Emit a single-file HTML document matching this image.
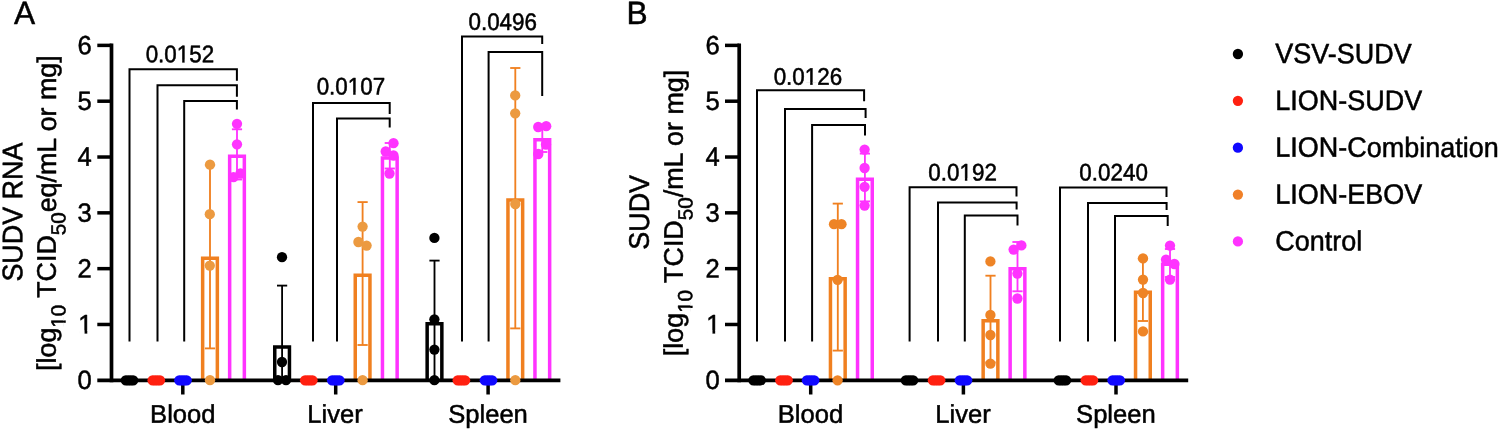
<!DOCTYPE html>
<html lang="en"><head><meta charset="utf-8"><title>SUDV RNA and SUDV titers</title>
<style>html,body{margin:0;padding:0;background:#fff;}body{width:1500px;height:431px;overflow:hidden;}svg{display:block;font-family:"Liberation Sans",Arial,Helvetica,sans-serif;}text{fill:#000;stroke:#000;stroke-width:0.5px;stroke-linejoin:round;}</style>
</head><body>
<svg width="1500" height="431" viewBox="0 0 1500 431">
<rect width="1500" height="431" fill="#fff"/>
<defs><clipPath id="ct1"><path clip-rule="evenodd" d="M-600,-60H600V60H-600ZM-2.42,-2.38H2.31V1.20H-2.42ZM4.69,-2.38H9.25V1.20H4.69Z"/></clipPath><clipPath id="ct2"><path clip-rule="evenodd" d="M-600,-60H600V60H-600ZM-2.42,-2.38H2.31V1.20H-2.42ZM4.69,-2.38H9.25V1.20H4.69Z"/></clipPath><clipPath id="ct3"><path clip-rule="evenodd" d="M-600,-60H600V60H-600ZM-13.29,-2.61H-8.00V1.20H-13.29ZM-5.34,-2.61H-0.25V1.20H-5.34Z"/></clipPath><clipPath id="ct4"><path clip-rule="evenodd" d="M-600,-60H600V60H-600ZM-113.99,7.36H-109.58V10.80H-113.99ZM-107.37,7.36H-103.12V10.80H-107.37Z"/></clipPath><clipPath id="ct5"><path clip-rule="evenodd" d="M-600,-60H600V60H-600ZM-2.42,-2.38H2.31V1.20H-2.42ZM4.69,-2.38H9.25V1.20H4.69Z"/></clipPath><clipPath id="ct6"><path clip-rule="evenodd" d="M-600,-60H600V60H-600ZM-2.42,-2.38H2.31V1.20H-2.42ZM4.69,-2.38H9.25V1.20H4.69Z"/></clipPath><clipPath id="ct7"><path clip-rule="evenodd" d="M-600,-60H600V60H-600ZM-13.29,-2.61H-8.00V1.20H-13.29ZM-5.34,-2.61H-0.25V1.20H-5.34Z"/></clipPath><clipPath id="ct8"><path clip-rule="evenodd" d="M-600,-60H600V60H-600ZM-99.30,7.36H-94.88V10.80H-99.30ZM-92.66,7.36H-88.41V10.80H-92.66Z"/></clipPath></defs>
<g id="panel-A">
<polyline points="129.50,341.60 129.50,69.20 236.90,69.20 236.90,80.80" fill="none" stroke="#000" stroke-width="2.0" stroke-linejoin="miter"/>
<polyline points="157.50,341.60 157.50,85.20 236.90,85.20 236.90,96.80" fill="none" stroke="#000" stroke-width="2.0" stroke-linejoin="miter"/>
<polyline points="184.20,341.60 184.20,101.00 236.90,101.00 236.90,109.60" fill="none" stroke="#000" stroke-width="2.0" stroke-linejoin="miter"/>
<polyline points="313.00,341.60 313.00,103.00 389.70,103.00 389.70,114.00" fill="none" stroke="#000" stroke-width="2.0" stroke-linejoin="miter"/>
<polyline points="337.00,341.60 337.00,118.50 389.70,118.50 389.70,127.40" fill="none" stroke="#000" stroke-width="2.0" stroke-linejoin="miter"/>
<polyline points="462.00,341.60 462.00,36.60 542.20,36.60 542.20,44.00" fill="none" stroke="#000" stroke-width="2.0" stroke-linejoin="miter"/>
<polyline points="488.60,341.60 488.60,52.00 542.20,52.00 542.20,96.00" fill="none" stroke="#000" stroke-width="2.0" stroke-linejoin="miter"/>
<text id="t1" clip-path="url(#ct1)" transform="translate(179.90,62.20) scale(1,1.07) skewY(0.05)" font-size="22.4" text-anchor="middle">0.0152</text>
<text id="t2" clip-path="url(#ct2)" transform="translate(350.90,94.60) scale(1,1.07) skewY(0.05)" font-size="22.4" text-anchor="middle">0.0107</text>
<text transform="translate(502.70,29.90) scale(1,1.07) skewY(0.05)" font-size="22.4" text-anchor="middle">0.0496</text>
<path d="M202.65,380.30V258.15H217.35V380.30" fill="none" stroke="#F08020" stroke-width="3.5" stroke-linejoin="miter"/>
<path d="M229.65,380.30V156.25H244.35V380.30" fill="none" stroke="#FF33FF" stroke-width="3.5" stroke-linejoin="miter"/>
<path d="M274.75,380.30V346.95H289.45V380.30" fill="none" stroke="#000000" stroke-width="3.5" stroke-linejoin="miter"/>
<path d="M355.25,380.30V275.35H369.95V380.30" fill="none" stroke="#F08020" stroke-width="3.5" stroke-linejoin="miter"/>
<path d="M382.45,380.30V157.95H397.15V380.30" fill="none" stroke="#FF33FF" stroke-width="3.5" stroke-linejoin="miter"/>
<path d="M427.15,380.30V323.75H441.85V380.30" fill="none" stroke="#000000" stroke-width="3.5" stroke-linejoin="miter"/>
<path d="M507.95,380.30V200.05H522.65V380.30" fill="none" stroke="#F08020" stroke-width="3.5" stroke-linejoin="miter"/>
<path d="M534.95,380.30V139.85H549.65V380.30" fill="none" stroke="#FF33FF" stroke-width="3.5" stroke-linejoin="miter"/>
<line x1="210.00" y1="165.00" x2="210.00" y2="348.40" stroke="#F08020" stroke-width="1.85" stroke-linecap="butt"/>
<line x1="204.90" y1="165.00" x2="215.10" y2="165.00" stroke="#F08020" stroke-width="1.85" stroke-linecap="butt"/>
<line x1="204.90" y1="348.40" x2="215.10" y2="348.40" stroke="#F08020" stroke-width="1.85" stroke-linecap="butt"/>
<line x1="237.00" y1="129.30" x2="237.00" y2="179.50" stroke="#FF33FF" stroke-width="1.85" stroke-linecap="butt"/>
<line x1="231.90" y1="129.30" x2="242.10" y2="129.30" stroke="#FF33FF" stroke-width="1.85" stroke-linecap="butt"/>
<line x1="231.90" y1="179.50" x2="242.10" y2="179.50" stroke="#FF33FF" stroke-width="1.85" stroke-linecap="butt"/>
<line x1="282.10" y1="285.60" x2="282.10" y2="380.30" stroke="#000000" stroke-width="1.85" stroke-linecap="butt"/>
<line x1="277.00" y1="285.60" x2="287.20" y2="285.60" stroke="#000000" stroke-width="1.85" stroke-linecap="butt"/>
<line x1="277.00" y1="380.30" x2="287.20" y2="380.30" stroke="#000000" stroke-width="1.85" stroke-linecap="butt"/>
<line x1="362.60" y1="202.10" x2="362.60" y2="345.00" stroke="#F08020" stroke-width="1.85" stroke-linecap="butt"/>
<line x1="357.50" y1="202.10" x2="367.70" y2="202.10" stroke="#F08020" stroke-width="1.85" stroke-linecap="butt"/>
<line x1="357.50" y1="345.00" x2="367.70" y2="345.00" stroke="#F08020" stroke-width="1.85" stroke-linecap="butt"/>
<line x1="389.80" y1="143.00" x2="389.80" y2="168.50" stroke="#FF33FF" stroke-width="1.85" stroke-linecap="butt"/>
<line x1="384.70" y1="143.00" x2="394.90" y2="143.00" stroke="#FF33FF" stroke-width="1.85" stroke-linecap="butt"/>
<line x1="384.70" y1="168.50" x2="394.90" y2="168.50" stroke="#FF33FF" stroke-width="1.85" stroke-linecap="butt"/>
<line x1="434.50" y1="260.60" x2="434.50" y2="380.30" stroke="#000000" stroke-width="1.85" stroke-linecap="butt"/>
<line x1="429.40" y1="260.60" x2="439.60" y2="260.60" stroke="#000000" stroke-width="1.85" stroke-linecap="butt"/>
<line x1="429.40" y1="380.30" x2="439.60" y2="380.30" stroke="#000000" stroke-width="1.85" stroke-linecap="butt"/>
<line x1="515.30" y1="68.00" x2="515.30" y2="328.40" stroke="#F08020" stroke-width="1.85" stroke-linecap="butt"/>
<line x1="510.20" y1="68.00" x2="520.40" y2="68.00" stroke="#F08020" stroke-width="1.85" stroke-linecap="butt"/>
<line x1="510.20" y1="328.40" x2="520.40" y2="328.40" stroke="#F08020" stroke-width="1.85" stroke-linecap="butt"/>
<line x1="542.30" y1="127.60" x2="542.30" y2="152.00" stroke="#FF33FF" stroke-width="1.85" stroke-linecap="butt"/>
<line x1="537.20" y1="127.60" x2="547.40" y2="127.60" stroke="#FF33FF" stroke-width="1.85" stroke-linecap="butt"/>
<line x1="537.20" y1="152.00" x2="547.40" y2="152.00" stroke="#FF33FF" stroke-width="1.85" stroke-linecap="butt"/>
<line x1="111.50" y1="43.60" x2="111.50" y2="382.20" stroke="#000" stroke-width="3.7" stroke-linecap="butt"/>
<line x1="97.30" y1="380.30" x2="560.40" y2="380.30" stroke="#000" stroke-width="3.8" stroke-linecap="butt"/>
<text transform="translate(91.80,389.10) scale(1,1.03) skewY(0.05)" font-size="25.6" text-anchor="end">0</text>
<line x1="97.30" y1="324.48" x2="111.50" y2="324.48" stroke="#000" stroke-width="3.5" stroke-linecap="butt"/>
<text id="t3" clip-path="url(#ct3)" transform="translate(92.60,333.28) scale(1,1.03) skewY(0.05)" font-size="25.6" text-anchor="end">1</text>
<line x1="97.30" y1="268.66" x2="111.50" y2="268.66" stroke="#000" stroke-width="3.5" stroke-linecap="butt"/>
<text transform="translate(91.80,277.46) scale(1,1.03) skewY(0.05)" font-size="25.6" text-anchor="end">2</text>
<line x1="97.30" y1="212.84" x2="111.50" y2="212.84" stroke="#000" stroke-width="3.5" stroke-linecap="butt"/>
<text transform="translate(91.80,221.64) scale(1,1.03) skewY(0.05)" font-size="25.6" text-anchor="end">3</text>
<line x1="97.30" y1="157.02" x2="111.50" y2="157.02" stroke="#000" stroke-width="3.5" stroke-linecap="butt"/>
<text transform="translate(91.80,165.82) scale(1,1.03) skewY(0.05)" font-size="25.6" text-anchor="end">4</text>
<line x1="97.30" y1="101.20" x2="111.50" y2="101.20" stroke="#000" stroke-width="3.5" stroke-linecap="butt"/>
<text transform="translate(91.80,110.00) scale(1,1.03) skewY(0.05)" font-size="25.6" text-anchor="end">5</text>
<line x1="97.30" y1="45.38" x2="111.50" y2="45.38" stroke="#000" stroke-width="3.5" stroke-linecap="butt"/>
<text transform="translate(91.80,54.18) scale(1,1.03) skewY(0.05)" font-size="25.6" text-anchor="end">6</text>
<line x1="182.80" y1="380.30" x2="182.80" y2="394.50" stroke="#000" stroke-width="3.5" stroke-linecap="butt"/>
<text transform="translate(182.80,422.80) skewY(0.05)" font-size="25.6" text-anchor="middle">Blood</text>
<line x1="335.70" y1="380.30" x2="335.70" y2="394.50" stroke="#000" stroke-width="3.5" stroke-linecap="butt"/>
<text transform="translate(335.10,422.80) skewY(0.05)" font-size="25.6" text-anchor="middle">Liver</text>
<line x1="488.10" y1="380.30" x2="488.10" y2="394.50" stroke="#000" stroke-width="3.5" stroke-linecap="butt"/>
<text transform="translate(488.00,422.80) skewY(0.05)" font-size="25.6" text-anchor="middle">Spleen</text>
<circle cx="125.80" cy="380.30" r="5.15" fill="#000000"/>
<circle cx="128.30" cy="380.30" r="5.15" fill="#000000"/>
<circle cx="130.70" cy="380.30" r="5.15" fill="#000000"/>
<circle cx="133.20" cy="380.30" r="5.15" fill="#000000"/>
<circle cx="152.60" cy="380.30" r="5.15" fill="#FF2010"/>
<circle cx="155.10" cy="380.30" r="5.15" fill="#FF2010"/>
<circle cx="157.50" cy="380.30" r="5.15" fill="#FF2010"/>
<circle cx="160.00" cy="380.30" r="5.15" fill="#FF2010"/>
<circle cx="179.30" cy="380.30" r="5.15" fill="#1008FF"/>
<circle cx="181.80" cy="380.30" r="5.15" fill="#1008FF"/>
<circle cx="184.20" cy="380.30" r="5.15" fill="#1008FF"/>
<circle cx="186.70" cy="380.30" r="5.15" fill="#1008FF"/>
<circle cx="210.00" cy="164.70" r="5.15" fill="#EC9A40"/>
<circle cx="209.80" cy="214.20" r="5.15" fill="#EC9A40"/>
<circle cx="209.80" cy="265.60" r="5.15" fill="#EC9A40"/>
<circle cx="210.00" cy="380.20" r="5.15" fill="#EC9A40"/>
<circle cx="237.00" cy="123.80" r="5.15" fill="#FF33FF"/>
<circle cx="237.00" cy="144.30" r="5.15" fill="#FF33FF"/>
<circle cx="240.50" cy="173.50" r="5.15" fill="#FF33FF"/>
<circle cx="233.50" cy="177.20" r="5.15" fill="#FF33FF"/>
<circle cx="282.00" cy="257.20" r="5.15" fill="#000000"/>
<circle cx="282.00" cy="362.00" r="5.15" fill="#000000"/>
<circle cx="278.00" cy="380.20" r="5.15" fill="#000000"/>
<circle cx="286.00" cy="380.20" r="5.15" fill="#000000"/>
<circle cx="305.10" cy="380.30" r="5.15" fill="#FF2010"/>
<circle cx="307.60" cy="380.30" r="5.15" fill="#FF2010"/>
<circle cx="310.00" cy="380.30" r="5.15" fill="#FF2010"/>
<circle cx="312.50" cy="380.30" r="5.15" fill="#FF2010"/>
<circle cx="332.10" cy="380.30" r="5.15" fill="#1008FF"/>
<circle cx="334.60" cy="380.30" r="5.15" fill="#1008FF"/>
<circle cx="337.00" cy="380.30" r="5.15" fill="#1008FF"/>
<circle cx="339.50" cy="380.30" r="5.15" fill="#1008FF"/>
<circle cx="362.60" cy="226.60" r="5.15" fill="#EC9A40"/>
<circle cx="358.40" cy="242.00" r="5.15" fill="#EC9A40"/>
<circle cx="366.60" cy="245.60" r="5.15" fill="#EC9A40"/>
<circle cx="362.60" cy="380.20" r="5.15" fill="#EC9A40"/>
<circle cx="393.50" cy="143.20" r="5.15" fill="#FF33FF"/>
<circle cx="385.70" cy="151.50" r="5.15" fill="#FF33FF"/>
<circle cx="393.50" cy="155.50" r="5.15" fill="#FF33FF"/>
<circle cx="389.50" cy="173.50" r="5.15" fill="#FF33FF"/>
<circle cx="434.40" cy="237.90" r="5.15" fill="#000000"/>
<circle cx="434.40" cy="319.30" r="5.15" fill="#000000"/>
<circle cx="434.40" cy="349.60" r="5.15" fill="#000000"/>
<circle cx="434.40" cy="380.20" r="5.15" fill="#000000"/>
<circle cx="457.70" cy="380.30" r="5.15" fill="#FF2010"/>
<circle cx="460.20" cy="380.30" r="5.15" fill="#FF2010"/>
<circle cx="462.60" cy="380.30" r="5.15" fill="#FF2010"/>
<circle cx="465.10" cy="380.30" r="5.15" fill="#FF2010"/>
<circle cx="484.80" cy="380.30" r="5.15" fill="#1008FF"/>
<circle cx="487.30" cy="380.30" r="5.15" fill="#1008FF"/>
<circle cx="489.70" cy="380.30" r="5.15" fill="#1008FF"/>
<circle cx="492.20" cy="380.30" r="5.15" fill="#1008FF"/>
<circle cx="515.20" cy="95.40" r="5.15" fill="#EC9A40"/>
<circle cx="515.20" cy="113.30" r="5.15" fill="#EC9A40"/>
<circle cx="515.30" cy="204.00" r="5.15" fill="#EC9A40"/>
<circle cx="515.30" cy="380.20" r="5.15" fill="#EC9A40"/>
<circle cx="538.20" cy="127.00" r="5.15" fill="#FF33FF"/>
<circle cx="546.20" cy="126.20" r="5.15" fill="#FF33FF"/>
<circle cx="546.00" cy="144.50" r="5.15" fill="#FF33FF"/>
<circle cx="538.30" cy="154.00" r="5.15" fill="#FF33FF"/>
<text transform="translate(22.30,212.10) rotate(-90) scale(1,1.05) skewY(0.05)" font-size="26.9" text-anchor="middle">SUDV RNA</text>
<text id="t4" clip-path="url(#ct4)" transform="translate(55.90,213.10) rotate(-90) skewY(0.05)" font-size="26.9" text-anchor="middle" letter-spacing="-0.03">[log<tspan font-size="20.6" dy="9.6">10</tspan><tspan dy="-9.6"> TCID</tspan><tspan font-size="20.6" dy="9.6">50</tspan><tspan dy="-9.6">eq/mL or mg]</tspan></text>
<text transform="translate(13.90,24.00) scale(1,1.02) skewY(0.05)" font-size="31.7">A</text>
</g>
<g id="panel-B">
<polyline points="757.00,341.60 757.00,90.20 864.10,90.20 864.10,101.20" fill="none" stroke="#000" stroke-width="2.0" stroke-linejoin="miter"/>
<polyline points="785.00,341.60 785.00,109.00 865.60,109.00 865.60,118.00" fill="none" stroke="#000" stroke-width="2.0" stroke-linejoin="miter"/>
<polyline points="812.10,341.60 812.10,125.00 865.00,125.00 865.00,135.40" fill="none" stroke="#000" stroke-width="2.0" stroke-linejoin="miter"/>
<polyline points="909.60,341.60 909.60,187.20 1016.50,187.20 1016.50,196.40" fill="none" stroke="#000" stroke-width="2.0" stroke-linejoin="miter"/>
<polyline points="938.00,341.60 938.00,202.50 1016.60,202.50 1016.60,209.60" fill="none" stroke="#000" stroke-width="2.0" stroke-linejoin="miter"/>
<polyline points="964.80,341.60 964.80,215.40 1017.50,215.40 1017.50,225.50" fill="none" stroke="#000" stroke-width="2.0" stroke-linejoin="miter"/>
<polyline points="1060.00,341.60 1060.00,187.40 1166.50,187.40 1166.50,197.00" fill="none" stroke="#000" stroke-width="2.0" stroke-linejoin="miter"/>
<polyline points="1088.00,341.60 1088.00,203.00 1166.60,203.00 1166.60,210.00" fill="none" stroke="#000" stroke-width="2.0" stroke-linejoin="miter"/>
<polyline points="1115.00,341.60 1115.00,216.00 1167.70,216.00 1167.70,226.00" fill="none" stroke="#000" stroke-width="2.0" stroke-linejoin="miter"/>
<text id="t5" clip-path="url(#ct5)" transform="translate(807.90,84.80) scale(1,1.07) skewY(0.05)" font-size="22.4" text-anchor="middle">0.0126</text>
<text id="t6" clip-path="url(#ct6)" transform="translate(962.60,180.60) scale(1,1.07) skewY(0.05)" font-size="22.4" text-anchor="middle">0.0192</text>
<text transform="translate(1113.60,180.60) scale(1,1.07) skewY(0.05)" font-size="22.4" text-anchor="middle">0.0240</text>
<path d="M830.45,380.30V278.75H845.15V380.30" fill="none" stroke="#F08020" stroke-width="3.5" stroke-linejoin="miter"/>
<path d="M857.55,380.30V179.15H872.25V380.30" fill="none" stroke="#FF33FF" stroke-width="3.5" stroke-linejoin="miter"/>
<path d="M983.15,380.30V320.75H997.85V380.30" fill="none" stroke="#F08020" stroke-width="3.5" stroke-linejoin="miter"/>
<path d="M1010.15,380.30V268.75H1024.85V380.30" fill="none" stroke="#FF33FF" stroke-width="3.5" stroke-linejoin="miter"/>
<path d="M1135.55,380.30V292.25H1150.25V380.30" fill="none" stroke="#F08020" stroke-width="3.5" stroke-linejoin="miter"/>
<path d="M1162.65,380.30V264.35H1177.35V380.30" fill="none" stroke="#FF33FF" stroke-width="3.5" stroke-linejoin="miter"/>
<line x1="837.80" y1="203.60" x2="837.80" y2="350.60" stroke="#F08020" stroke-width="1.85" stroke-linecap="butt"/>
<line x1="832.70" y1="203.60" x2="842.90" y2="203.60" stroke="#F08020" stroke-width="1.85" stroke-linecap="butt"/>
<line x1="832.70" y1="350.60" x2="842.90" y2="350.60" stroke="#F08020" stroke-width="1.85" stroke-linecap="butt"/>
<line x1="864.90" y1="153.60" x2="864.90" y2="201.40" stroke="#FF33FF" stroke-width="1.85" stroke-linecap="butt"/>
<line x1="859.80" y1="153.60" x2="870.00" y2="153.60" stroke="#FF33FF" stroke-width="1.85" stroke-linecap="butt"/>
<line x1="859.80" y1="201.40" x2="870.00" y2="201.40" stroke="#FF33FF" stroke-width="1.85" stroke-linecap="butt"/>
<line x1="990.50" y1="275.70" x2="990.50" y2="362.40" stroke="#F08020" stroke-width="1.85" stroke-linecap="butt"/>
<line x1="985.40" y1="275.70" x2="995.60" y2="275.70" stroke="#F08020" stroke-width="1.85" stroke-linecap="butt"/>
<line x1="985.40" y1="362.40" x2="995.60" y2="362.40" stroke="#F08020" stroke-width="1.85" stroke-linecap="butt"/>
<line x1="1017.50" y1="242.00" x2="1017.50" y2="291.30" stroke="#FF33FF" stroke-width="1.85" stroke-linecap="butt"/>
<line x1="1012.40" y1="242.00" x2="1022.60" y2="242.00" stroke="#FF33FF" stroke-width="1.85" stroke-linecap="butt"/>
<line x1="1012.40" y1="291.30" x2="1022.60" y2="291.30" stroke="#FF33FF" stroke-width="1.85" stroke-linecap="butt"/>
<line x1="1142.90" y1="258.60" x2="1142.90" y2="321.00" stroke="#F08020" stroke-width="1.85" stroke-linecap="butt"/>
<line x1="1137.80" y1="258.60" x2="1148.00" y2="258.60" stroke="#F08020" stroke-width="1.85" stroke-linecap="butt"/>
<line x1="1137.80" y1="321.00" x2="1148.00" y2="321.00" stroke="#F08020" stroke-width="1.85" stroke-linecap="butt"/>
<line x1="1170.00" y1="249.00" x2="1170.00" y2="277.00" stroke="#FF33FF" stroke-width="1.85" stroke-linecap="butt"/>
<line x1="1164.90" y1="249.00" x2="1175.10" y2="249.00" stroke="#FF33FF" stroke-width="1.85" stroke-linecap="butt"/>
<line x1="1164.90" y1="277.00" x2="1175.10" y2="277.00" stroke="#FF33FF" stroke-width="1.85" stroke-linecap="butt"/>
<line x1="739.20" y1="43.60" x2="739.20" y2="382.20" stroke="#000" stroke-width="3.7" stroke-linecap="butt"/>
<line x1="725.00" y1="380.30" x2="1188.20" y2="380.30" stroke="#000" stroke-width="3.8" stroke-linecap="butt"/>
<text transform="translate(719.70,389.10) scale(1,1.03) skewY(0.05)" font-size="25.6" text-anchor="end">0</text>
<line x1="725.00" y1="324.48" x2="739.20" y2="324.48" stroke="#000" stroke-width="3.5" stroke-linecap="butt"/>
<text id="t7" clip-path="url(#ct7)" transform="translate(720.50,333.28) scale(1,1.03) skewY(0.05)" font-size="25.6" text-anchor="end">1</text>
<line x1="725.00" y1="268.66" x2="739.20" y2="268.66" stroke="#000" stroke-width="3.5" stroke-linecap="butt"/>
<text transform="translate(719.70,277.46) scale(1,1.03) skewY(0.05)" font-size="25.6" text-anchor="end">2</text>
<line x1="725.00" y1="212.84" x2="739.20" y2="212.84" stroke="#000" stroke-width="3.5" stroke-linecap="butt"/>
<text transform="translate(719.70,221.64) scale(1,1.03) skewY(0.05)" font-size="25.6" text-anchor="end">3</text>
<line x1="725.00" y1="157.02" x2="739.20" y2="157.02" stroke="#000" stroke-width="3.5" stroke-linecap="butt"/>
<text transform="translate(719.70,165.82) scale(1,1.03) skewY(0.05)" font-size="25.6" text-anchor="end">4</text>
<line x1="725.00" y1="101.20" x2="739.20" y2="101.20" stroke="#000" stroke-width="3.5" stroke-linecap="butt"/>
<text transform="translate(719.70,110.00) scale(1,1.03) skewY(0.05)" font-size="25.6" text-anchor="end">5</text>
<line x1="725.00" y1="45.38" x2="739.20" y2="45.38" stroke="#000" stroke-width="3.5" stroke-linecap="butt"/>
<text transform="translate(719.70,54.18) scale(1,1.03) skewY(0.05)" font-size="25.6" text-anchor="end">6</text>
<line x1="810.70" y1="380.30" x2="810.70" y2="394.50" stroke="#000" stroke-width="3.5" stroke-linecap="butt"/>
<text transform="translate(810.40,422.80) skewY(0.05)" font-size="25.6" text-anchor="middle">Blood</text>
<line x1="963.40" y1="380.30" x2="963.40" y2="394.50" stroke="#000" stroke-width="3.5" stroke-linecap="butt"/>
<text transform="translate(963.10,422.80) skewY(0.05)" font-size="25.6" text-anchor="middle">Liver</text>
<line x1="1116.00" y1="380.30" x2="1116.00" y2="394.50" stroke="#000" stroke-width="3.5" stroke-linecap="butt"/>
<text transform="translate(1115.90,422.80) skewY(0.05)" font-size="25.6" text-anchor="middle">Spleen</text>
<circle cx="753.40" cy="380.30" r="5.15" fill="#000000"/>
<circle cx="755.90" cy="380.30" r="5.15" fill="#000000"/>
<circle cx="758.30" cy="380.30" r="5.15" fill="#000000"/>
<circle cx="760.80" cy="380.30" r="5.15" fill="#000000"/>
<circle cx="780.30" cy="380.30" r="5.15" fill="#FF2010"/>
<circle cx="782.80" cy="380.30" r="5.15" fill="#FF2010"/>
<circle cx="785.20" cy="380.30" r="5.15" fill="#FF2010"/>
<circle cx="787.70" cy="380.30" r="5.15" fill="#FF2010"/>
<circle cx="806.90" cy="380.30" r="5.15" fill="#1008FF"/>
<circle cx="809.40" cy="380.30" r="5.15" fill="#1008FF"/>
<circle cx="811.80" cy="380.30" r="5.15" fill="#1008FF"/>
<circle cx="814.30" cy="380.30" r="5.15" fill="#1008FF"/>
<circle cx="834.00" cy="224.20" r="5.15" fill="#EE8426"/>
<circle cx="841.50" cy="224.20" r="5.15" fill="#EE8426"/>
<circle cx="837.60" cy="279.80" r="5.15" fill="#EE8426"/>
<circle cx="837.60" cy="380.30" r="5.15" fill="#EE8426"/>
<circle cx="864.60" cy="149.60" r="5.15" fill="#FF33FF"/>
<circle cx="864.60" cy="168.00" r="5.15" fill="#FF33FF"/>
<circle cx="864.60" cy="186.80" r="5.15" fill="#FF33FF"/>
<circle cx="864.60" cy="205.60" r="5.15" fill="#FF33FF"/>
<circle cx="905.80" cy="380.30" r="5.15" fill="#000000"/>
<circle cx="908.30" cy="380.30" r="5.15" fill="#000000"/>
<circle cx="910.70" cy="380.30" r="5.15" fill="#000000"/>
<circle cx="913.20" cy="380.30" r="5.15" fill="#000000"/>
<circle cx="932.90" cy="380.30" r="5.15" fill="#FF2010"/>
<circle cx="935.40" cy="380.30" r="5.15" fill="#FF2010"/>
<circle cx="937.80" cy="380.30" r="5.15" fill="#FF2010"/>
<circle cx="940.30" cy="380.30" r="5.15" fill="#FF2010"/>
<circle cx="959.80" cy="380.30" r="5.15" fill="#1008FF"/>
<circle cx="962.30" cy="380.30" r="5.15" fill="#1008FF"/>
<circle cx="964.70" cy="380.30" r="5.15" fill="#1008FF"/>
<circle cx="967.20" cy="380.30" r="5.15" fill="#1008FF"/>
<circle cx="990.40" cy="261.40" r="5.15" fill="#EE8426"/>
<circle cx="990.40" cy="315.00" r="5.15" fill="#EE8426"/>
<circle cx="990.40" cy="335.00" r="5.15" fill="#EE8426"/>
<circle cx="990.40" cy="363.70" r="5.15" fill="#EE8426"/>
<circle cx="1021.40" cy="245.40" r="5.15" fill="#FF33FF"/>
<circle cx="1013.60" cy="249.60" r="5.15" fill="#FF33FF"/>
<circle cx="1017.40" cy="273.60" r="5.15" fill="#FF33FF"/>
<circle cx="1017.40" cy="298.50" r="5.15" fill="#FF33FF"/>
<circle cx="1058.70" cy="380.30" r="5.15" fill="#000000"/>
<circle cx="1061.20" cy="380.30" r="5.15" fill="#000000"/>
<circle cx="1063.60" cy="380.30" r="5.15" fill="#000000"/>
<circle cx="1066.10" cy="380.30" r="5.15" fill="#000000"/>
<circle cx="1085.70" cy="380.30" r="5.15" fill="#FF2010"/>
<circle cx="1088.20" cy="380.30" r="5.15" fill="#FF2010"/>
<circle cx="1090.60" cy="380.30" r="5.15" fill="#FF2010"/>
<circle cx="1093.10" cy="380.30" r="5.15" fill="#FF2010"/>
<circle cx="1112.50" cy="380.30" r="5.15" fill="#1008FF"/>
<circle cx="1115.00" cy="380.30" r="5.15" fill="#1008FF"/>
<circle cx="1117.40" cy="380.30" r="5.15" fill="#1008FF"/>
<circle cx="1119.90" cy="380.30" r="5.15" fill="#1008FF"/>
<circle cx="1143.00" cy="258.40" r="5.15" fill="#EE8426"/>
<circle cx="1143.00" cy="279.60" r="5.15" fill="#EE8426"/>
<circle cx="1143.00" cy="293.00" r="5.15" fill="#EE8426"/>
<circle cx="1143.00" cy="331.40" r="5.15" fill="#EE8426"/>
<circle cx="1170.00" cy="245.60" r="5.15" fill="#FF33FF"/>
<circle cx="1166.00" cy="259.60" r="5.15" fill="#FF33FF"/>
<circle cx="1174.40" cy="264.00" r="5.15" fill="#FF33FF"/>
<circle cx="1170.00" cy="279.60" r="5.15" fill="#FF33FF"/>
<text transform="translate(648.90,212.30) rotate(-90) scale(1,1.05) skewY(0.05)" font-size="26.9" text-anchor="middle">SUDV</text>
<text id="t8" clip-path="url(#ct8)" transform="translate(682.80,213.00) rotate(-90) skewY(0.05)" font-size="26.9" text-anchor="middle">[log<tspan font-size="20.6" dy="9.6">10</tspan><tspan dy="-9.6"> TCID</tspan><tspan font-size="20.6" dy="9.6">50</tspan><tspan dy="-9.6">/mL or mg]</tspan></text>
<text transform="translate(626.60,24.00) scale(1,1.02) skewY(0.05)" font-size="31.7">B</text>
</g>
<g id="legend">
<circle cx="1237.90" cy="54.00" r="5.15" fill="#000000"/>
<text transform="translate(1275.30,63.10) scale(1,1.04) skewY(0.05)" font-size="27.0">VSV-SUDV</text>
<circle cx="1237.90" cy="100.85" r="5.15" fill="#FF2010"/>
<text transform="translate(1275.30,109.95) scale(1,1.04) skewY(0.05)" font-size="27.0">LION-SUDV</text>
<circle cx="1237.90" cy="147.70" r="5.15" fill="#1008FF"/>
<text transform="translate(1275.30,156.80) scale(1,1.04) skewY(0.05)" font-size="27.0">LION-Combination</text>
<circle cx="1237.90" cy="194.55" r="5.15" fill="#F08028"/>
<text transform="translate(1275.30,203.65) scale(1,1.04) skewY(0.05)" font-size="27.0">LION-EBOV</text>
<circle cx="1237.90" cy="241.40" r="5.15" fill="#FF33FF"/>
<text transform="translate(1275.30,250.50) scale(1,1.04) skewY(0.05)" font-size="27.0">Control</text>
</g>
</svg>
</body></html>
